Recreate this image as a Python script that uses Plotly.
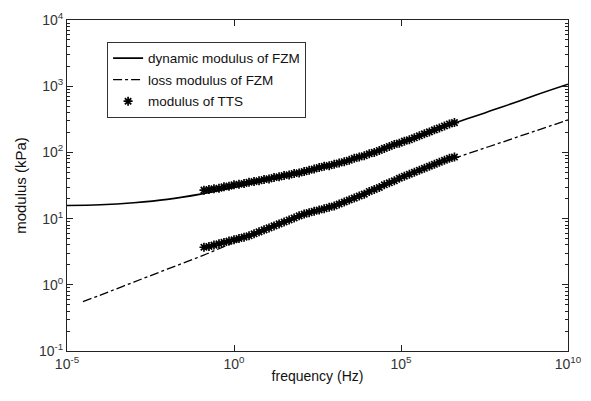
import plotly.graph_objects as go

# FZM model curves
fzm_freq = [1e-5, 1e-4, 1e-3, 1e-2, 1e-1, 1e0, 1e1, 1e2, 1e3, 1e4, 1e5, 1e6, 1e7, 1e8, 1e9, 1e10]
dynamic_fzm = [15.8, 16.2, 17.4, 19.5, 23.4, 29.5, 38.0, 49.0, 64.6, 93.3, 138, 214, 324, 479, 724, 1070]

loss_freq = [3e-5, 1e-4, 1e-3, 1e-2, 1e-1, 1e0, 1e1, 1e2, 1e3, 1e4, 1e5, 1e6, 1e7, 1e8, 1e9, 1e10]
loss_fzm = [0.555, 0.700, 1.10, 1.72, 2.69, 4.37, 7.08, 11.0, 16.6, 25.7, 39.8, 63.1, 95.5, 141, 209, 309]

# TTS master-curve points
tts_freq = [0.126, 0.178, 0.251, 0.355, 0.501, 0.708, 1.0, 1.41, 2.0, 2.82, 3.98, 5.62, 7.94,
            11.2, 15.8, 22.4, 31.6, 44.7, 63.1, 89.1, 126, 178, 251, 355, 501, 708, 1000,
            1410, 2000, 2820, 3980, 5620, 7940, 11200, 15800, 22400, 31600, 44700, 63100, 89100,
            1.26e5, 1.78e5, 2.51e5, 3.55e5, 5.01e5, 7.08e5, 1.0e6, 1.41e6, 2.0e6, 2.82e6, 3.98e6]
tts_dynamic = [26.9, 27.5, 28.2, 28.8, 30.2, 30.9, 32.4, 33.1, 33.9, 35.5, 36.3, 37.2, 38.9,
               39.8, 41.7, 42.7, 44.7, 45.7, 47.9, 49.0, 51.3, 53.7, 56.2, 58.9, 61.7, 63.1, 66.1,
               69.2, 72.4, 75.9, 81.3, 85.1, 89.1, 95.5, 100, 107, 115, 123, 132, 138,
               148, 155, 166, 178, 191, 204, 219, 234, 251, 269, 282]
tts_loss = [3.69, 3.80, 3.98, 4.17, 4.37, 4.57, 4.79, 5.01, 5.25, 5.50, 5.89, 6.31, 6.76,
            7.24, 7.76, 8.32, 8.91, 9.55, 10.2, 11.0, 11.7, 12.3, 12.9, 13.5, 14.1, 14.8, 15.5,
            16.6, 17.8, 19.1, 20.4, 21.9, 23.4, 25.7, 27.5, 29.5, 32.4, 34.7, 37.2, 40.7,
            43.7, 46.8, 50.1, 53.7, 57.5, 61.7, 66.1, 70.8, 75.9, 81.3, 85.1]

x_ticks = [1e-5, 1e0, 1e5, 1e10]
x_ticktext = ["10<sup>-5</sup>", "10<sup>0</sup>", "10<sup>5</sup>", "10<sup>10</sup>"]
y_ticks = [1e-1, 1e0, 1e1, 1e2, 1e3, 1e4]
y_ticktext = ["10<sup>-1</sup>", "10<sup>0</sup>", "10<sup>1</sup>", "10<sup>2</sup>", "10<sup>3</sup>", "10<sup>4</sup>"]

FONT = "Liberation Sans, Arial, sans-serif"

fig = go.Figure()
fig.add_trace(go.Scatter(x=fzm_freq, y=dynamic_fzm, mode="lines", name="dynamic modulus of FZM",
                         line=dict(color="black", width=1.6, shape="spline"), legendgroup="a"))
fig.add_trace(go.Scatter(x=loss_freq, y=loss_fzm, mode="lines", name="loss modulus of FZM",
                         line=dict(color="black", width=1.3, dash="dashdot", shape="spline"), legendgroup="b"))
fig.add_trace(go.Scatter(x=tts_freq + [None] + tts_freq, y=tts_dynamic + [None] + tts_loss,
                         mode="markers", name="modulus of TTS", legendgroup="c",
                         marker=dict(symbol="asterisk", size=7.5, color="black",
                                     line=dict(color="black", width=1.7))))

axis_common = dict(type="log", showgrid=False, zeroline=False, showline=True, linecolor="#222",
                   linewidth=1, mirror="ticks", ticks="inside", tickcolor="#222", automargin=False,
                   tickfont=dict(family=FONT, size=14, color="#333"))

fig.update_xaxes(**axis_common, range=[-5, 10], tickvals=x_ticks, ticktext=x_ticktext, ticklen=6,
                 title=dict(text="frequency (Hz)", font=dict(family=FONT, size=14, color="#111"), standoff=0))
fig.update_yaxes(**axis_common, range=[-1, 4], tickvals=y_ticks, ticktext=y_ticktext, ticklen=6,
                 minor=dict(ticks="inside", ticklen=3, dtick="D1", tickcolor="#222", showgrid=False),
                 title=dict(text="modulus (kPa)", font=dict(family=FONT, size=15, color="#111"), standoff=8))

# page body has an 8px default margin, so the figure is sized to fit inside the window
fig.update_layout(
    width=583, height=393,
    margin=dict(l=59, r=23, t=12, b=50),
    paper_bgcolor="white", plot_bgcolor="white",
    font=dict(family=FONT, size=14, color="#111"),
    legend=dict(x=0.08, y=0.934, xanchor="left", yanchor="top", bgcolor="white",
                bordercolor="#333", borderwidth=1, traceorder="grouped", tracegroupgap=1,
                font=dict(family=FONT, size=13.5, color="#111"), itemwidth=30),
    showlegend=True,
)

fig.write_html("out.html")
